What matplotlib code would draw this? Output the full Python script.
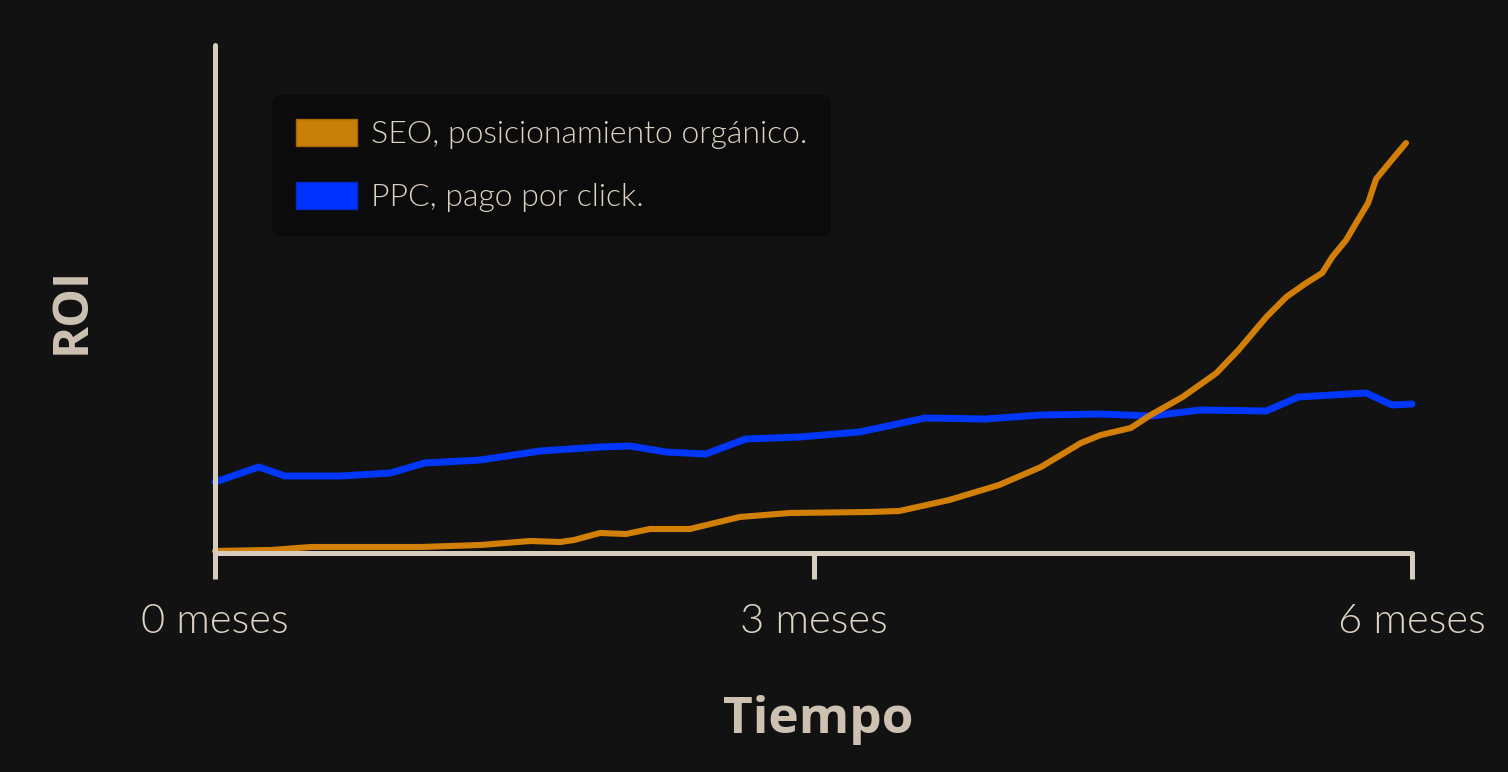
import matplotlib
matplotlib.use("Agg")
import matplotlib.pyplot as plt
from matplotlib.patches import Patch

# ---------- datos (meses, ROI en unidades relativas) ----------
ppc_meses = [0.00, 0.22, 0.35, 0.63, 0.88, 1.05, 1.33, 1.63, 1.93, 2.08, 2.26, 2.46,
             2.66, 2.93, 3.23, 3.56, 3.86, 4.14, 4.44, 4.69, 4.94, 5.27, 5.43, 5.77,
             5.90, 6.00]
ppc_roi = [14.2, 17.2, 15.4, 15.4, 16.0, 18.0, 18.6, 20.4, 21.2, 21.4, 20.2, 19.8,
           22.8, 23.2, 24.2, 27.0, 26.8, 27.6, 27.8, 27.4, 28.6, 28.4, 31.2, 32.0,
           29.6, 29.8]

seo_meses = [0.00, 0.28, 0.48, 1.03, 1.33, 1.58, 1.73, 1.80, 1.93, 2.06, 2.18, 2.38,
             2.63, 2.88, 3.28, 3.43, 3.68, 3.93, 4.14, 4.34, 4.44, 4.59, 4.69, 4.85,
             5.02, 5.13, 5.27, 5.37, 5.47, 5.55, 5.60, 5.67, 5.72, 5.78, 5.82, 5.89,
             5.97]
seo_roi = [0.4, 0.6, 1.2, 1.2, 1.6, 2.4, 2.2, 2.6, 4.0, 3.8, 4.8, 4.8,
           7.2, 8.0, 8.2, 8.4, 10.6, 13.6, 17.2, 22.0, 23.6, 25.0, 27.6, 31.2,
           36.0, 40.6, 47.2, 51.2, 54.0, 56.0, 59.2, 62.6, 66.0, 70.0, 74.8, 78.2,
           82.0]

etiquetas_x = ["0 meses", "3 meses", "6 meses"]
ticks_x = [0, 3, 6]

BG = "#121212"
AXIS = "#d6cdbf"
TXT = "#ddd3c3"
ORANGE = "#d27f06"
BLUE = "#0037ff"
FUENTE = ["Lato", "DejaVu Sans"]

fig = plt.figure(figsize=(15.08, 7.72), dpi=100, facecolor=BG)
ax = fig.add_axes([215 / 1508, 1 - 553 / 772, (1412 - 215) / 1508, (553 - 45) / 772])
ax.set_facecolor(BG)

ax.plot(ppc_meses, ppc_roi, color=BLUE, lw=5.0, solid_capstyle="round",
        solid_joinstyle="round", clip_on=False, zorder=3)
ax.plot(seo_meses, seo_roi, color=ORANGE, lw=4.4, solid_capstyle="round",
        solid_joinstyle="round", clip_on=False, zorder=3)

ax.set_xlim(0, 6)
ax.set_ylim(0, 101.6)

for s in ["top", "right"]:
    ax.spines[s].set_visible(False)
for s in ["left", "bottom"]:
    ax.spines[s].set_color(AXIS)
    ax.spines[s].set_linewidth(3.6)
    ax.spines[s].set_capstyle("round")
    ax.spines[s].set_zorder(4)

ax.set_xticks(ticks_x)
ax.set_xticklabels(etiquetas_x, family=FUENTE, fontweight=300, fontsize=30,
                   color=TXT)
ax.tick_params(axis="x", length=19, width=3.6, color=AXIS, pad=17, direction="out")
ax.set_yticks([])

fig.text(818 / 1508, 1 - 720 / 772, "Tiempo", ha="center", va="center",
         family=["Open Sans", "DejaVu Sans"], fontweight="bold", fontsize=37,
         color="#cdc2b2")
fig.text(72 / 1508, 1 - 310 / 772, "ROI", ha="center", va="center", rotation=90,
         family=["Open Sans", "DejaVu Sans"], fontweight="bold", fontsize=35,
         color="#cdc2b2")

handles = [Patch(facecolor="#c98008", edgecolor="#a86600", lw=1),
           Patch(facecolor="#0033ff", edgecolor="#002ad0", lw=1)]
leg = ax.legend(handles, ["SEO, posicionamiento orgánico.", "PPC, pago por click."],
                loc="upper left", bbox_to_anchor=(272 / 1508, 1 - 95 / 772),
                bbox_transform=fig.transFigure,
                prop={"family": FUENTE, "size": 23, "weight": 300},
                labelcolor=TXT, facecolor="#0b0b0b", edgecolor="none", framealpha=1,
                fancybox=True, handlelength=1.9, handleheight=0.92, handletextpad=0.45,
                labelspacing=1.02, borderpad=0.75, borderaxespad=0)
leg.get_frame().set_boxstyle("round", pad=0, rounding_size=0.3)

fig.savefig("out.png", dpi=100, facecolor=BG)
